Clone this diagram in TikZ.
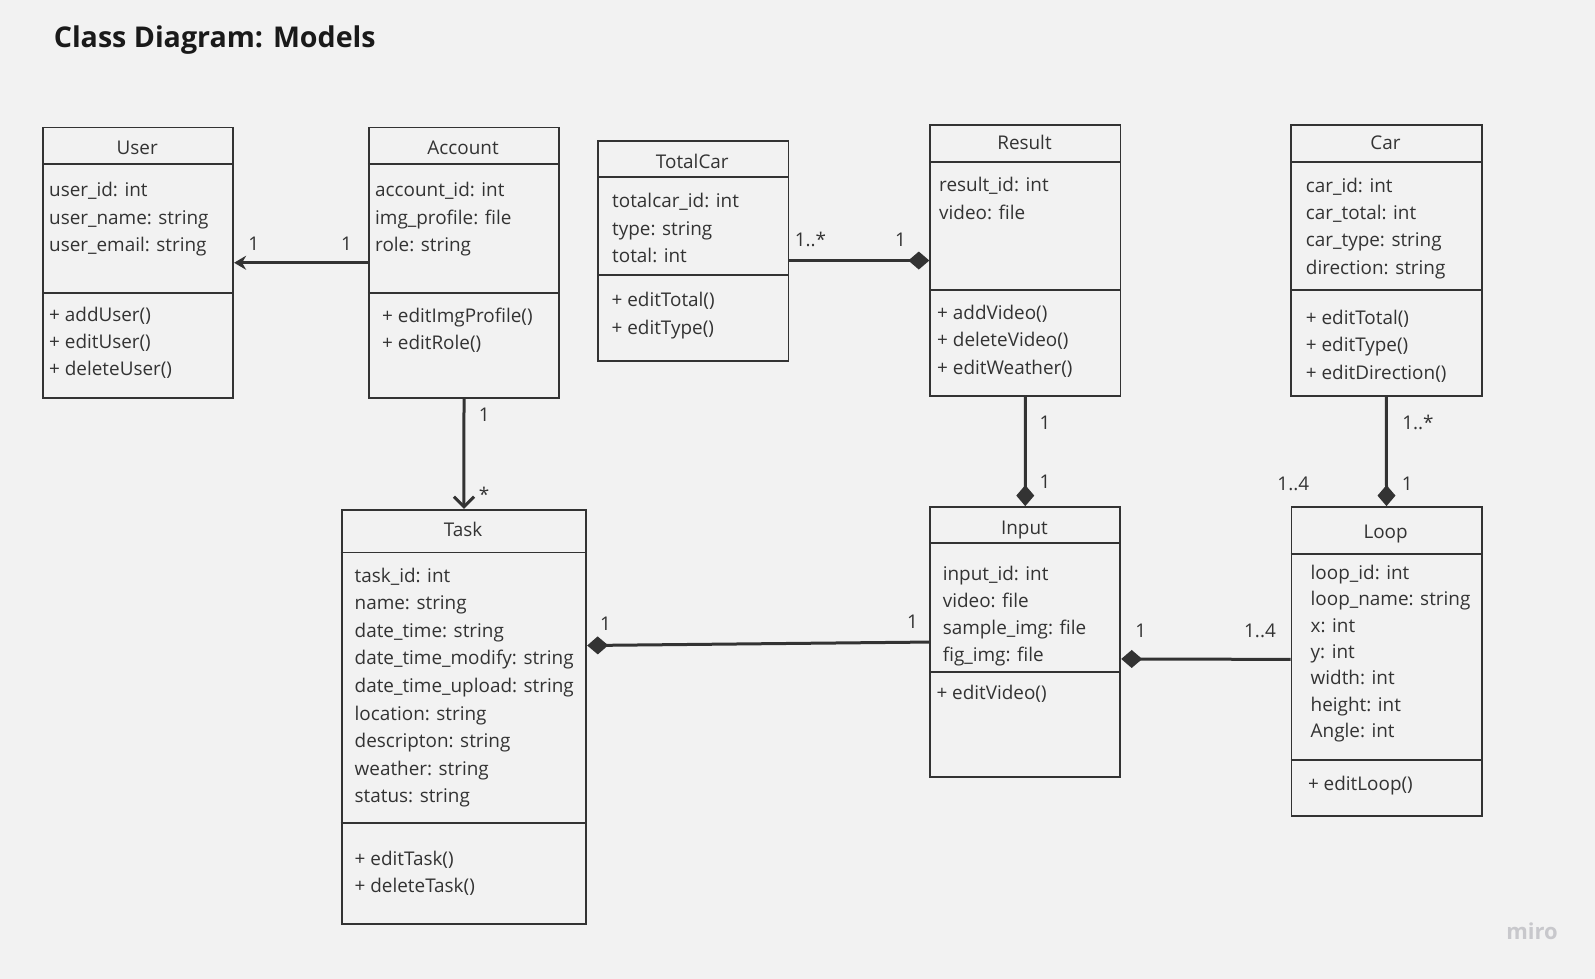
\documentclass[tikz,border=0pt]{standalone}
\usepackage{fontspec}
\setmainfont{Open Sans}
\usetikzlibrary{arrows.meta}

\definecolor{bg}{HTML}{F2F2F2}
\definecolor{ink}{HTML}{333333}
\definecolor{titleink}{HTML}{1A1A1A}
\definecolor{logo}{HTML}{C8C8CC}

\tikzset{
  classbox/.style={draw=ink, line width=1.8pt, inner sep=0pt, anchor=north west},
  divider/.style={draw=ink, line width=1.8pt},
  txt/.style={inner sep=0pt, text=ink, font=\fontsize{18.9}{22}\selectfont},
  member/.style={txt, anchor=base west},
  classname/.style={txt, anchor=base},
  mult/.style={txt, anchor=base},
  link/.style={draw=ink, line width=3pt},
  comp/.style={link, -{Diamond[length=21pt,width=18pt]}},
  assoc/.style={link, line width=2.6pt, -{Stealth[length=12pt,width=14pt,inset=4pt]}},
  nav/.style={link, -{Straight Barb[length=10pt,width=20pt]}},
}

\begin{document}
\begin{tikzpicture}[x=1pt, y=-1pt]
  \fill[bg] (0,0) rectangle (1595,979);
  \useasboundingbox (0,0) rectangle (1595,979);

  % heading
  \node[anchor=base west, inner sep=0pt, text=titleink,
        font=\fontsize{28.6}{34}\selectfont\bfseries] (heading) at (53.6,48) {Class Diagram: Models};

  % ---------- User ----------
  \node[classbox, minimum width=190.2pt, minimum height=270.3pt] (user) at (42.1,126.7) {};
  \draw[divider] (42.1,164) -- (232.3,164);
  \draw[divider] (42.1,292.7) -- (232.3,292.7);
  \node[classname] (user-name) at (137.2,154.8) {User};
  \foreach \t [count=\i from 0] in {user\_id: int, user\_name: string, user\_email: string}
    \node[member] (user-a\i) at (49,{196.7+27.5*\i}) {\t};
  \foreach \t [count=\i from 0] in {+ addUser(), + editUser(), + deleteUser()}
    \node[member] (user-m\i) at (49,{321+27.2*\i}) {\t};

  % ---------- Account ----------
  \node[classbox, minimum width=190.6pt, minimum height=270.3pt] (account) at (367.8,126.7) {};
  \draw[divider] (367.8,164) -- (558.4,164);
  \draw[divider] (367.8,293) -- (558.4,293);
  \node[classname] (account-name) at (463.1,154.8) {Account};
  \foreach \t [count=\i from 0] in {account\_id: int, img\_profile: file, role: string}
    \node[member] (account-a\i) at (375,{196.7+27.5*\i}) {\t};
  \foreach \t [count=\i from 0] in {+ editImgProfile(), + editRole()}
    \node[member] (account-m\i) at (382,{322.3+27*\i}) {\t};

  % ---------- TotalCar ----------
  \node[classbox, minimum width=190.4pt, minimum height=220pt] (totalcar) at (597.1,140) {};
  \draw[divider] (597.1,177.3) -- (787.5,177.3);
  \draw[divider] (597.1,275) -- (787.5,275);
  \node[classname] (totalcar-name) at (692.3,168.2) {TotalCar};
  \foreach \t [count=\i from 0] in {totalcar\_id: int, type: string, total: int}
    \node[member] (totalcar-a\i) at (612,{207.7+27.5*\i}) {\t};
  \foreach \t [count=\i from 0] in {+ editTotal(), + editType()}
    \node[member] (totalcar-m\i) at (611.4,{306.7+27.6*\i}) {\t};

  % ---------- Result ----------
  \node[classbox, minimum width=190.3pt, minimum height=270.7pt] (result) at (929.3,124.3) {};
  \draw[divider] (929.3,161.7) -- (1119.6,161.7);
  \draw[divider] (929.3,290.3) -- (1119.6,290.3);
  \node[classname] (result-name) at (1024.5,149.8) {Result};
  \foreach \t [count=\i from 0] in {result\_id: int, video: file}
    \node[member] (result-a\i) at (939,{191.3+28*\i}) {\t};
  \foreach \t [count=\i from 0] in {+ addVideo(), + deleteVideo(), + editWeather()}
    \node[member] (result-m\i) at (937,{319.3+27.5*\i}) {\t};

  % ---------- Car ----------
  \node[classbox, minimum width=190.4pt, minimum height=270.7pt] (car) at (1290.3,124.3) {};
  \draw[divider] (1290.3,161.7) -- (1480.7,161.7);
  \draw[divider] (1290.3,290.3) -- (1480.7,290.3);
  \node[classname] (car-name) at (1385.5,149.8) {Car};
  \foreach \t [count=\i from 0] in {car\_id: int, car\_total: int, car\_type: string, direction: string}
    \node[member] (car-a\i) at (1305.7,{192+27.4*\i}) {\t};
  \foreach \t [count=\i from 0] in {+ editTotal(), + editType(), + editDirection()}
    \node[member] (car-m\i) at (1305.7,{324.3+27.5*\i}) {\t};

  % ---------- Task ----------
  \node[classbox, minimum width=244.7pt, minimum height=414.2pt] (task) at (340.7,508.8) {};
  \draw[divider] (340.7,552.5) -- (585.4,552.5);
  \draw[divider] (340.7,822.9) -- (585.4,822.9);
  \node[classname] (task-name) at (463,536.7) {Task};
  \foreach \t [count=\i from 0] in {task\_id: int, name: string, date\_time: string,
      date\_time\_modify: string, date\_time\_upload: string, location: string,
      descripton: string, weather: string, status: string}
    \node[member] (task-a\i) at (354.5,{582+27.6*\i}) {\t};
  \foreach \t [count=\i from 0] in {+ editTask(), + deleteTask()}
    \node[member] (task-m\i) at (354.5,{865+27.9*\i}) {\t};

  % ---------- Input ----------
  \node[classbox, minimum width=190.1pt, minimum height=270.1pt] (input) at (929.3,506.1) {};
  \draw[divider] (929.3,543.3) -- (1119.4,543.3);
  \draw[divider] (929.3,671.7) -- (1119.4,671.7);
  \node[classname] (input-name) at (1024.4,534.4) {Input};
  \foreach \t [count=\i from 0] in {input\_id: int, video: file, sample\_img: file, fig\_img: file}
    \node[member] (input-a\i) at (942.6,{580+27*\i}) {\t};
  \node[member] (input-m0) at (936.3,699.5) {+ editVideo()};

  % ---------- Loop ----------
  \node[classbox, minimum width=190.2pt, minimum height=308.8pt] (loop) at (1290.5,506.1) {};
  \draw[divider] (1290.5,554.2) -- (1480.7,554.2);
  \draw[divider] (1290.5,759.6) -- (1480.7,759.6);
  \node[classname] (loop-name) at (1385.6,538.5) {Loop};
  \foreach \t [count=\i from 0] in {loop\_id: int, loop\_name: string, x: int, y: int,
      width: int, height: int, Angle: int}
    \node[member] (loop-a\i) at (1310.5,{579.3+26.4*\i}) {\t};
  \node[member] (loop-m0) at (1307.8,790.4) {+ editLoop()};

  % ---------- connectors ----------
  \draw[assoc] (account.west) -- (user.east);
  \draw[nav] (account.south) -- (task.north);
  \draw[comp] (totalcar.east |- result.west) -- (result.west);
  \draw[comp] (result.south) -- (input.north);
  \draw[comp] (car.south) -- (loop.north);
  \draw[comp] (input.west) -- ([yshift=-136.7pt]task.north east);
  \draw[comp] ([yshift=2pt]loop.west) -- ([yshift=-16.9pt]input.east);

  % ---------- multiplicities ----------
  \node[mult] (m-ua-1) at (253.7,250) {1};
  \node[mult] (m-ua-2) at (346.4,250) {1};
  \node[mult] (m-at-1) at (484.2,421.5) {1};
  \node[mult] (m-at-2) at (484.2,501) {*};
  \node[mult] (m-tr-1) at (810.4,246.7) {1..*};
  \node[mult] (m-tr-2) at (900.4,246.7) {1};
  \node[mult] (m-ri-1) at (1045,429.7) {1};
  \node[mult] (m-ri-2) at (1045,488.7) {1};
  \node[mult] (m-cl-1) at (1418,429.4) {1..*};
  \node[mult] (m-cl-2) at (1293.3,490.7) {1..4};
  \node[mult] (m-cl-3) at (1407.3,490.7) {1};
  \node[mult] (m-ti-1) at (605.6,630.2) {1};
  \node[mult] (m-ti-2) at (912.4,628.1) {1};
  \node[mult] (m-il-1) at (1140.7,637.1) {1};
  \node[mult] (m-il-2) at (1260,637.1) {1..4};

  % watermark
  \node[anchor=base, inner sep=0pt, text=logo, font=\fontsize{22}{26}\selectfont\bfseries]
    (brand) at (1532,939) {miro};
\end{tikzpicture}
\end{document}
